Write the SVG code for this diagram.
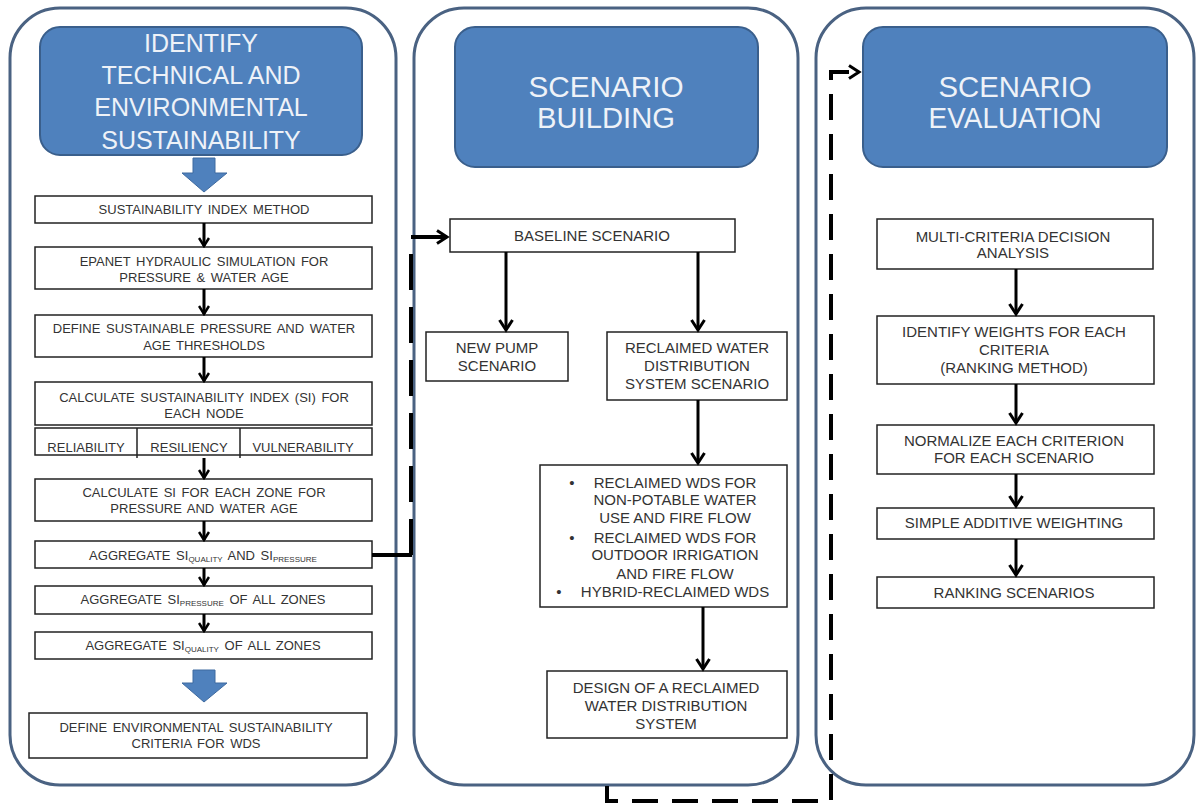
<svg xmlns="http://www.w3.org/2000/svg" width="1198" height="805" viewBox="0 0 1198 805">
<style>
.panel{fill:#fff;stroke:#4a6282;stroke-width:3}
.hdr{fill:#4f81bd;stroke:#3a5f8c;stroke-width:2}
.htxt{font-family:"Liberation Sans",Arial,sans-serif;fill:#eef2f8;text-anchor:middle}
.box{fill:#fff;stroke:#222;stroke-width:1.5}
.t13{font-family:"Liberation Sans",Arial,sans-serif;font-size:13px;fill:#333;text-anchor:middle;word-spacing:2px}
.t15{font-family:"Liberation Sans",Arial,sans-serif;font-size:15px;fill:#333;text-anchor:middle}
.sub{font-size:8px}
.arr{stroke:#000;stroke-width:3;fill:none}
.blk{fill:#4f81bd;stroke:#3e6aa0;stroke-width:1}
.dash{stroke:#000;stroke-width:4;fill:none}
</style>
<defs>
<marker id="ah" viewBox="0 0 12 12" refX="10" refY="6" markerWidth="12" markerHeight="12" markerUnits="userSpaceOnUse" orient="auto">
<path d="M2,1 L10,6 L2,11" fill="none" stroke="#000" stroke-width="2.5"/>
</marker>
<marker id="ahL" viewBox="0 0 16 16" refX="13" refY="8" markerWidth="16" markerHeight="16" markerUnits="userSpaceOnUse" orient="auto">
<path d="M3,1.5 L13,8 L3,14.5" fill="none" stroke="#000" stroke-width="3"/>
</marker>
</defs>

<g id="panel-identify">
<rect class="panel" x="10" y="8" width="386" height="777" rx="50"/>
<rect class="hdr" x="40" y="27" width="322" height="128" rx="20"/>
<text class="htxt" font-size="25" x="201" y="52">IDENTIFY</text>
<text class="htxt" font-size="25" x="201" y="84">TECHNICAL AND</text>
<text class="htxt" font-size="25" x="201" y="116">ENVIRONMENTAL</text>
<text class="htxt" font-size="25" x="201" y="149">SUSTAINABILITY</text>
<path class="blk" d="M193,158 H215 V173 H227 L204,192 L182,173 H193 Z"/>
</g>

<g id="panel-building">
<rect class="panel" x="414" y="8" width="384" height="777" rx="50"/>
<rect class="hdr" x="455" y="27" width="303" height="140" rx="20"/>
<text class="htxt" font-size="30" x="606" y="97" textLength="155" lengthAdjust="spacingAndGlyphs">SCENARIO</text>
<text class="htxt" font-size="30" x="606" y="128" textLength="138" lengthAdjust="spacingAndGlyphs">BUILDING</text>
</g>

<g id="panel-evaluation">
<rect class="panel" x="816" y="8" width="378" height="777" rx="50"/>
<rect class="hdr" x="863" y="27" width="304" height="140" rx="20"/>
<text class="htxt" font-size="30" x="1015" y="97" textLength="153" lengthAdjust="spacingAndGlyphs">SCENARIO</text>
<text class="htxt" font-size="30" x="1015" y="128" textLength="173" lengthAdjust="spacingAndGlyphs">EVALUATION</text>
</g>

<g id="n-si-method">
<rect class="box" x="35" y="196" width="337" height="27"/>
<text class="t13" x="204" y="214">SUSTAINABILITY INDEX METHOD</text>
</g>
<g id="n-epanet">
<rect class="box" x="35" y="247" width="337" height="42"/>
<text class="t13" x="204" y="266">EPANET HYDRAULIC SIMULATION FOR</text>
<text class="t13" x="204" y="282">PRESSURE &amp; WATER AGE</text>
</g>
<g id="n-thresholds">
<rect class="box" x="35" y="315" width="337" height="42"/>
<text class="t13" x="204" y="333">DEFINE SUSTAINABLE PRESSURE AND WATER</text>
<text class="t13" x="204" y="350">AGE THRESHOLDS</text>
</g>
<g id="n-si-node">
<rect class="box" x="35" y="382" width="337" height="43"/>
<text class="t13" x="204" y="402">CALCULATE SUSTAINABILITY INDEX (SI) FOR</text>
<text class="t13" x="204" y="418">EACH NODE</text>
</g>
<g id="n-criteria-row">
<rect class="box" x="35" y="428" width="337" height="27"/>
<line x1="137" y1="428" x2="137" y2="458" stroke="#222" stroke-width="1.5"/>
<line x1="240" y1="428" x2="240" y2="458" stroke="#222" stroke-width="1.5"/>
<text class="t13" x="86" y="452">RELIABILITY</text>
<text class="t13" x="189" y="452">RESILIENCY</text>
<text class="t13" x="303" y="452">VULNERABILITY</text>
</g>
<g id="n-si-zone">
<rect class="box" x="35" y="479" width="337" height="42"/>
<text class="t13" x="204" y="497">CALCULATE SI FOR EACH ZONE FOR</text>
<text class="t13" x="204" y="513">PRESSURE AND WATER AGE</text>
</g>
<g id="n-agg-both">
<rect class="box" x="35" y="541" width="337" height="27"/>
<text class="t13" x="203" y="560">AGGREGATE SI<tspan class="sub" dy="2">QUALITY</tspan><tspan dy="-2"> AND SI</tspan><tspan class="sub" dy="2">PRESSURE</tspan></text>
</g>
<g id="n-agg-pressure">
<rect class="box" x="35" y="586" width="337" height="28"/>
<text class="t13" x="203" y="604">AGGREGATE SI<tspan class="sub" dy="2">PRESSURE</tspan><tspan dy="-2"> OF ALL ZONES</tspan></text>
</g>
<g id="n-agg-quality">
<rect class="box" x="35" y="632" width="337" height="27"/>
<text class="t13" x="203" y="650">AGGREGATE SI<tspan class="sub" dy="2">QUALITY</tspan><tspan dy="-2"> OF ALL ZONES</tspan></text>
</g>
<g id="blk-arrow-2">
<path class="blk" d="M193,670 H215 V683 H227 L204,702 L182,683 H193 Z"/>
</g>
<g id="n-env-criteria">
<rect class="box" x="29" y="713" width="338" height="45"/>
<text class="t13" x="196" y="732">DEFINE ENVIRONMENTAL SUSTAINABILITY</text>
<text class="t13" x="196" y="748">CRITERIA FOR WDS</text>
</g>

<g id="n-baseline">
<rect class="box" x="450" y="219" width="285" height="33"/>
<text class="t15" x="592" y="241">BASELINE SCENARIO</text>
</g>
<g id="n-new-pump">
<rect class="box" x="426" y="332" width="142" height="49"/>
<text class="t15" x="497" y="353">NEW PUMP</text>
<text class="t15" x="497" y="371">SCENARIO</text>
</g>
<g id="n-reclaimed">
<rect class="box" x="607" y="332" width="180" height="68"/>
<text class="t15" x="697" y="353">RECLAIMED WATER</text>
<text class="t15" x="697" y="371">DISTRIBUTION</text>
<text class="t15" x="697" y="389">SYSTEM SCENARIO</text>
</g>
<g id="n-options">
<rect class="box" x="540" y="465" width="247" height="142"/>
<text class="t15" x="572" y="488">•</text>
<text class="t15" x="675" y="488">RECLAIMED WDS FOR</text>
<text class="t15" x="675" y="505">NON-POTABLE WATER</text>
<text class="t15" x="675" y="523">USE AND FIRE FLOW</text>
<text class="t15" x="572" y="543">•</text>
<text class="t15" x="675" y="543">RECLAIMED WDS FOR</text>
<text class="t15" x="675" y="560">OUTDOOR IRRIGATION</text>
<text class="t15" x="675" y="579">AND FIRE FLOW</text>
<text class="t15" x="559" y="597">•</text>
<text class="t15" x="675" y="597">HYBRID-RECLAIMED WDS</text>
</g>
<g id="n-design">
<rect class="box" x="547" y="671" width="240" height="67"/>
<text class="t15" x="666" y="693">DESIGN OF A RECLAIMED</text>
<text class="t15" x="666" y="711">WATER DISTRIBUTION</text>
<text class="t15" x="666" y="729">SYSTEM</text>
</g>

<g id="n-mcda">
<rect class="box" x="877" y="219" width="276" height="50"/>
<text class="t15" x="1013" y="242">MULTI-CRITERIA DECISION</text>
<text class="t15" x="1013" y="258">ANALYSIS</text>
</g>
<g id="n-weights">
<rect class="box" x="877" y="316" width="277" height="68"/>
<text class="t15" x="1014" y="337">IDENTIFY WEIGHTS FOR EACH</text>
<text class="t15" x="1014" y="355">CRITERIA</text>
<text class="t15" x="1014" y="373">(RANKING METHOD)</text>
</g>
<g id="n-normalize">
<rect class="box" x="877" y="425" width="277" height="49"/>
<text class="t15" x="1014" y="446">NORMALIZE EACH CRITERION</text>
<text class="t15" x="1014" y="463">FOR EACH SCENARIO</text>
</g>
<g id="n-saw">
<rect class="box" x="877" y="508" width="277" height="31"/>
<text class="t15" x="1014" y="528">SIMPLE ADDITIVE WEIGHTING</text>
</g>
<g id="n-ranking">
<rect class="box" x="877" y="577" width="277" height="31"/>
<text class="t15" x="1014" y="598">RANKING SCENARIOS</text>
</g>

<g id="connectors">
<line class="arr" x1="204" y1="223" x2="204" y2="246" marker-end="url(#ah)"/>
<line class="arr" x1="204" y1="289" x2="204" y2="314" marker-end="url(#ah)"/>
<line class="arr" x1="204" y1="357" x2="204" y2="381" marker-end="url(#ah)"/>
<line class="arr" x1="204" y1="458" x2="204" y2="478" marker-end="url(#ah)"/>
<line class="arr" x1="204" y1="521" x2="204" y2="540" marker-end="url(#ah)"/>
<line class="arr" x1="204" y1="568" x2="204" y2="585" marker-end="url(#ah)"/>
<line class="arr" x1="204" y1="614" x2="204" y2="631" marker-end="url(#ah)"/>

<line class="arr" x1="506" y1="252" x2="506" y2="330" marker-end="url(#ahL)"/>
<line class="arr" x1="698" y1="252" x2="698" y2="330" marker-end="url(#ahL)"/>
<line class="arr" x1="698" y1="400" x2="698" y2="463" marker-end="url(#ahL)"/>
<line class="arr" x1="703" y1="607" x2="703" y2="669" marker-end="url(#ahL)"/>

<line class="arr" x1="1016" y1="269" x2="1016" y2="314" marker-end="url(#ahL)"/>
<line class="arr" x1="1016" y1="384" x2="1016" y2="423" marker-end="url(#ahL)"/>
<line class="arr" x1="1016" y1="474" x2="1016" y2="506" marker-end="url(#ahL)"/>
<line class="arr" x1="1016" y1="539" x2="1016" y2="575" marker-end="url(#ahL)"/>

<line x1="372" y1="555" x2="412" y2="555" stroke="#000" stroke-width="4"/>
<path class="dash" d="M411,555 V237 H447" stroke-dasharray="36 17" marker-end="url(#ahL)"/>
<path class="dash" d="M607,786 V801 H831 V72 H859" stroke-dasharray="26 14" marker-end="url(#ahL)"/>
</g>
</svg>
